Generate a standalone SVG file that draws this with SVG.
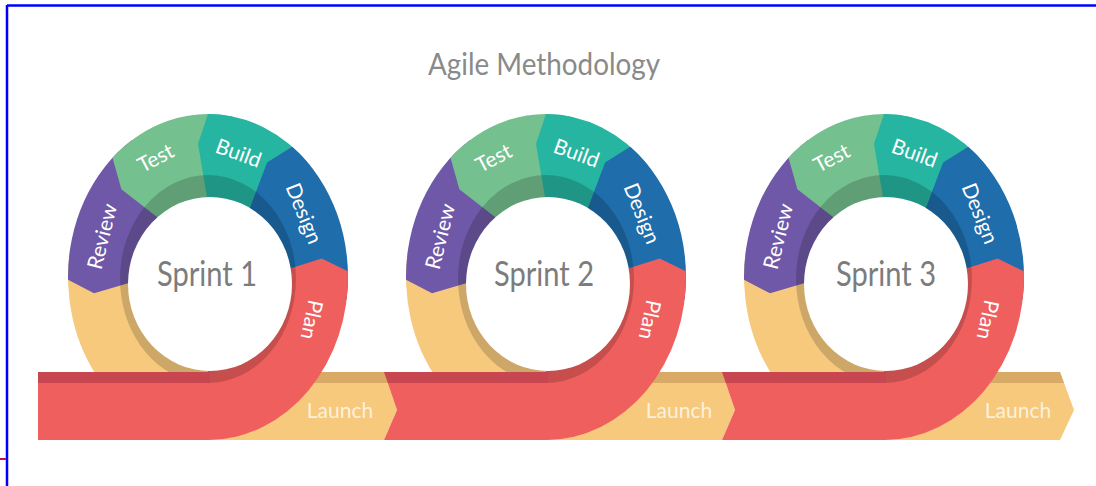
<svg xmlns="http://www.w3.org/2000/svg" xmlns:xlink="http://www.w3.org/1999/xlink" width="1096" height="486" viewBox="0 0 1096 486">
<style>
.lbl{font-family:Lato,"Open Sans","Liberation Sans",sans-serif;font-size:21px;fill:#ffffff;text-anchor:middle;dominant-baseline:central}
.launch{font-family:Lato,"Open Sans","Liberation Sans",sans-serif;font-size:21px;fill:#fdf1dc;text-anchor:middle}
.sprint{font-family:Lato,"Open Sans","Liberation Sans",sans-serif;font-size:34px;fill:#7c7c7c;text-anchor:middle}
.title{font-family:Lato,"Open Sans","Liberation Sans",sans-serif;font-size:31px;fill:#8a8a8a;text-anchor:middle}
.yel{fill:#f7c97c}.yeld{fill:#d9a966}
.red{fill:#ef5f5e}.redd{fill:#c8464f}
</style>
<defs>
<g id="ring">
<path fill="#f7c97c" d="M208,277 L70.13,248.7 A140 163 0 0 0 208,440 Z"/>
<path fill="#6e58a7" d="M208,277 L131.75,140.3 A140 163 0 0 0 68.02,279.84 L94.05,293.29 L145,278.28 Z"/>
<path fill="#74c08f" d="M208,277 L232.31,116.48 A140 163 0 0 0 112.52,157.79 L121.36,189.31 L165.03,223.36 Z"/>
<path fill="#26b5a0" d="M208,277 L310.39,165.83 A140 163 0 0 0 208,114 L198,143.85 L208,203.65 Z"/>
<path fill="#1f6dab" d="M208,277 L346.64,299.68 A140 163 0 0 0 292.25,146.82 L267.1,162.4 L245.9,218.4 Z"/>
<path fill="#ef5f5e" d="M208,277 L208,440 A140 163 0 0 0 347.9,271.3 L321.7,258.4 L271,274.4 Z"/>
<ellipse cx="208" cy="279" rx="88" ry="104" fill="#000" fill-opacity="0.17"/>
<ellipse cx="210" cy="284" rx="82" ry="87" fill="#ffffff"/>
</g>
</defs>
<rect width="1096" height="486" fill="#ffffff"/>
<g id="frame" fill="none">
<line x1="7" y1="5.5" x2="1096" y2="5.5" stroke="#0000ff" stroke-width="2.5"/>
<line x1="7" y1="5" x2="7" y2="486" stroke="#0000ff" stroke-width="2.5"/>
<line x1="0" y1="459" x2="6" y2="459" stroke="#c0143c" stroke-width="2"/>
</g>
<g id="title"><text class="title" x="544" y="75" textLength="232" lengthAdjust="spacingAndGlyphs">Agile Methodology</text></g>
<g id="connectors">
<g id="launch1">
<polygon class="yel" points="200,372 384,372 397,410 384,440 200,440"/>
<polygon class="yeld" points="200,372 384,372 388,383 200,383"/>
<text class="launch" x="340" y="418">Launch</text>
</g>
<g id="launch2">
<polygon class="yel" points="538,372 722,372 735,410 722,440 538,440"/>
<polygon class="yeld" points="538,372 722,372 726,383 538,383"/>
<text class="launch" x="679" y="418">Launch</text>
</g>
<g id="launch3">
<polygon class="yel" points="876,372 1060,372 1074,410 1060,440 876,440"/>
<polygon class="yeld" points="876,372 1060,372 1064,383 876,383"/>
<text class="launch" x="1018" y="418">Launch</text>
</g>
</g>
<g id="sprint1">
<use xlink:href="#ring"/>
<rect class="red" x="38" y="372" width="172" height="68"/>
<rect class="redd" x="38" y="372" width="172" height="11"/>
<text class="sprint" x="207" y="286" textLength="100" lengthAdjust="spacingAndGlyphs">Sprint 1</text>
<text class="lbl" transform="translate(101,236) rotate(-76)">Review</text>
<text class="lbl" transform="translate(155,157) rotate(-28)">Test</text>
<text class="lbl" transform="translate(239,152) rotate(20)">Build</text>
<text class="lbl" transform="translate(305,213) rotate(68)">Design</text>
<text class="lbl" transform="translate(313,320) rotate(102)">Plan</text>
</g>
<g id="sprint2" transform="translate(338,0)">
<use xlink:href="#ring"/>
<polygon class="red" points="46,372 210,372 210,440 46,440 59,410"/>
<polygon class="redd" points="46,372 210,372 210,383 50,383"/>
<text class="sprint" x="206" y="286" textLength="100" lengthAdjust="spacingAndGlyphs">Sprint 2</text>
<text class="lbl" transform="translate(101,236) rotate(-76)">Review</text>
<text class="lbl" transform="translate(155,157) rotate(-28)">Test</text>
<text class="lbl" transform="translate(239,152) rotate(20)">Build</text>
<text class="lbl" transform="translate(305,213) rotate(68)">Design</text>
<text class="lbl" transform="translate(313,320) rotate(102)">Plan</text>
</g>
<g id="sprint3" transform="translate(676,0)">
<use xlink:href="#ring"/>
<polygon class="red" points="46,372 210,372 210,440 46,440 59,410"/>
<polygon class="redd" points="46,372 210,372 210,383 50,383"/>
<text class="sprint" x="210" y="286" textLength="100" lengthAdjust="spacingAndGlyphs">Sprint 3</text>
<text class="lbl" transform="translate(101,236) rotate(-76)">Review</text>
<text class="lbl" transform="translate(155,157) rotate(-28)">Test</text>
<text class="lbl" transform="translate(239,152) rotate(20)">Build</text>
<text class="lbl" transform="translate(305,213) rotate(68)">Design</text>
<text class="lbl" transform="translate(313,320) rotate(102)">Plan</text>
</g>
</svg>
